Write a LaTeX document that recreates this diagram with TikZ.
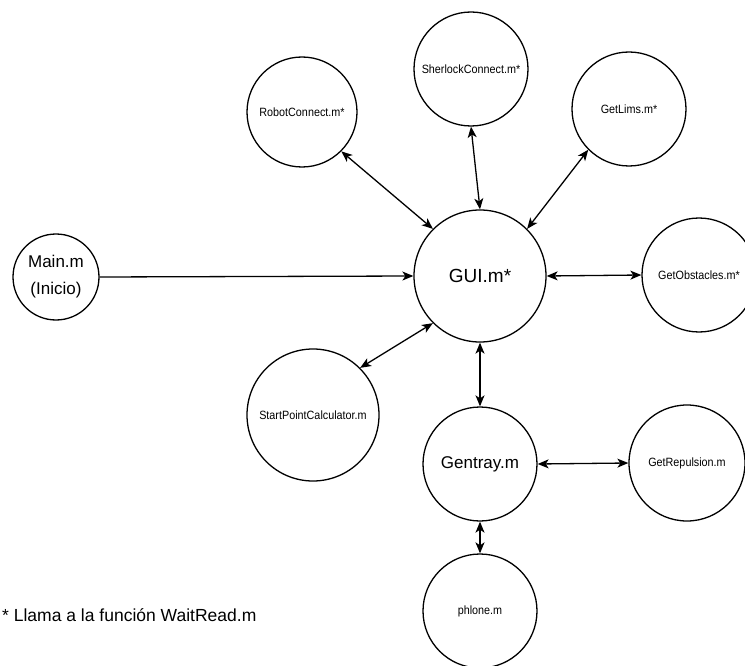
\documentclass[tikz,border=0pt]{standalone}
\usepackage{fontspec}
\setmainfont{Liberation Sans}
\newfontfamily\smallf[FakeStretch=0.9]{Liberation Sans}
\usetikzlibrary{arrows.meta}
\begin{document}
\begin{tikzpicture}[x=1pt,y=-1pt,
  circ/.style={circle,draw,line width=1.3pt,inner sep=0pt,align=center},
  smalltxt/.style={font=\smallf\fontsize{12}{14}\selectfont},
  conn/.style={line width=1.3pt,{Stealth[length=11pt,width=9pt,inset=3pt]}-{Stealth[length=11pt,width=9pt,inset=3pt]}},
  oneway/.style={line width=1.3pt,-{Stealth[length=11pt,width=9pt,inset=3pt]}}]
\useasboundingbox (0,0) rectangle (745,666);

\node[circ,minimum size=86pt,font=\fontsize{17}{27}\selectfont] (main) at (56,277) {Main.m\\(Inicio)};
\node[circ,minimum size=132pt,font=\fontsize{19}{22}\selectfont] (gui) at (480,276) {GUI.m*};
\node[circ,minimum size=110pt,smalltxt] (robot) at (302,112) {RobotConnect.m*};
\node[circ,minimum size=114pt,smalltxt] (sher) at (471,69) {SherlockConnect.m*};
\node[circ,minimum size=114pt,smalltxt] (lims) at (629,109) {GetLims.m*};
\node[circ,minimum size=114pt,smalltxt] (obs) at (699,275) {GetObstacles.m*};
\node[circ,minimum size=132pt,smalltxt] (spc) at (313,415) {StartPointCalculator.m};
\node[circ,minimum size=114pt,font=\fontsize{17}{20}\selectfont] (gen) at (480,464) {Gentray.m};
\node[circ,minimum size=116pt,smalltxt] (rep) at (687,463) {GetRepulsion.m};
\node[circ,minimum size=114pt,smalltxt] (phl) at (480,611) {phlone.m};

\node[anchor=base west,inner sep=0pt,font=\fontsize{17.5}{20}\selectfont] (note) at (2,621) {* Llama a la función WaitRead.m};

\draw[oneway] (main.east) -- (gui.west);
\draw[conn] (robot.-45) -- (gui.135);
\draw[conn] (sher.south) -- (gui.north);
\draw[conn] (lims.-135) -- (gui.45);
\draw[conn] (gui.east) -- (obs.west);
\draw[conn] (spc.45) -- (gui.-135);
\draw[conn] (gui.south) -- (gen.north);
\draw[conn] (gen.east) -- (rep.west);
\draw[conn] (gen.south) -- (phl.north);
\end{tikzpicture}
\end{document}
